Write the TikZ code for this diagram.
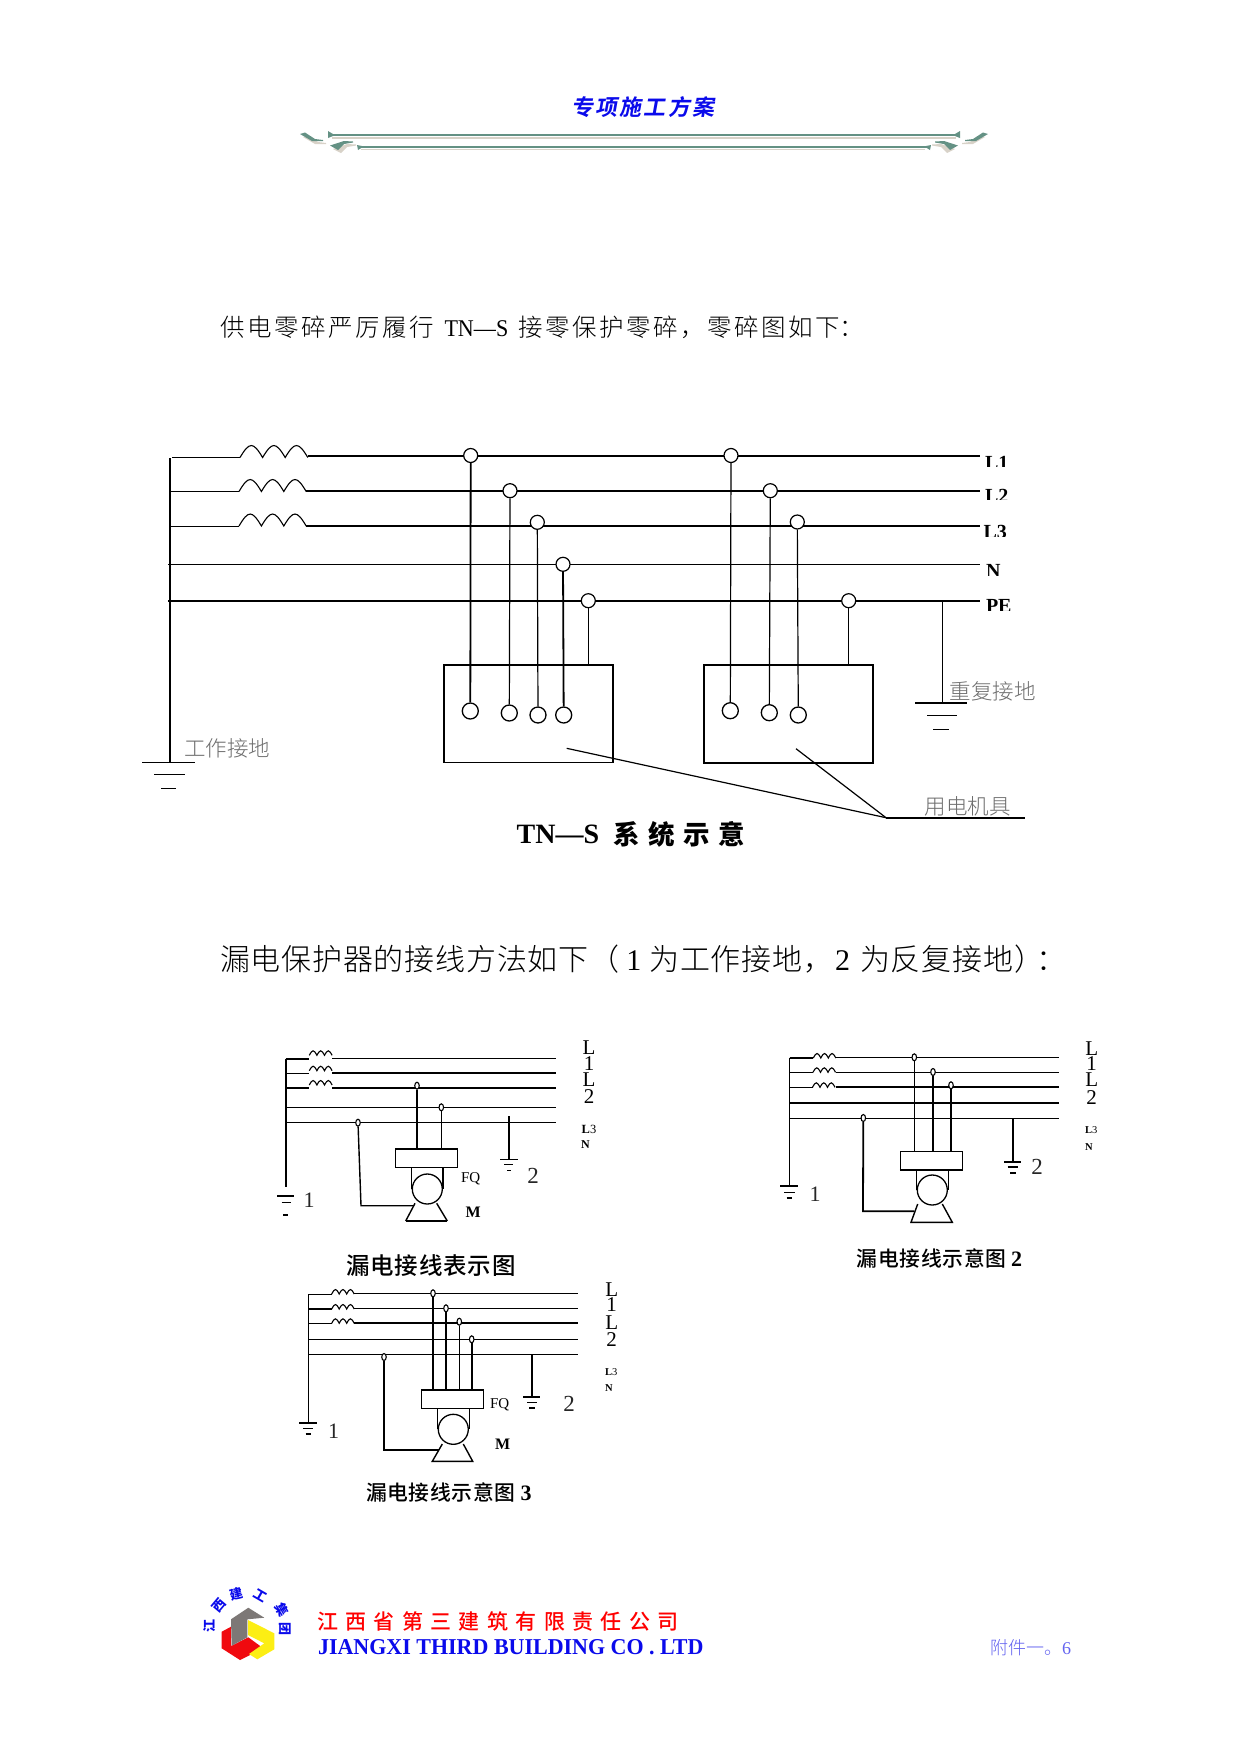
\documentclass[tikz,border=0pt]{standalone}
\usepackage{fontspec}
\usepackage{graphicx}
\usetikzlibrary{shapes.geometric}
\setmainfont{Liberation Serif}
\newfontfamily\cjk{Noto Sans CJK SC}
\newfontfamily\cjkm{Noto Sans CJK SC Medium}
\newfontfamily\cjkl{Noto Sans CJK SC Light}
\newfontfamily\cjkhead[FakeSlant=0.18]{Noto Sans CJK SC Bold}
\newcommand\fsz[1]{\fontsize{#1}{#1}\selectfont}
\makeatletter
\newcommand\spacedtext[2]{\@tfor\@ch:=#2\do{\@ch\kern#1pt\relax}}
\makeatother
\definecolor{headblue}{RGB}{10,10,235}
\definecolor{orngreen}{RGB}{100,145,132}
\definecolor{ornshadow}{RGB}{216,210,200}
\definecolor{graytext}{RGB}{110,110,110}
\definecolor{lightblue}{RGB}{100,100,240}
\definecolor{logogray}{RGB}{125,120,118}
\definecolor{logored}{RGB}{240,10,15}
\definecolor{logoyel}{RGB}{252,238,20}
\tikzset{
  txt/.style={inner sep=0pt,outer sep=0pt,anchor=west},
  ctxt/.style={inner sep=0pt,outer sep=0pt,anchor=center},
  thinw/.style={line width=1.2pt,line cap=butt},
  midw/.style={line width=1.4pt},
  thickw/.style={line width=1.8pt},
  tap/.style={circle,draw,fill=white,minimum size=14pt,inner sep=0pt,line width=1.2pt},
  term/.style={circle,draw,fill=white,minimum size=16pt,inner sep=0pt,line width=1.3pt},
  oval/.style={ellipse,draw,fill=white,minimum width=4.5pt,minimum height=7pt,inner sep=0pt,line width=1.1pt},
  fqbox/.style={rectangle,draw,line width=1.2pt,inner sep=0pt,minimum width=62pt,minimum height=18pt},
  motor/.style={circle,draw,line width=1.3pt,inner sep=0pt,minimum size=30pt},
}
% coil: x, y, bump width, bump height
\newcommand\coil[4]{\draw[line width=1.1pt,line join=miter] (#1,#2)
  .. controls +(#3*.42,-#4*1.33) and +(-#3*.42,-#4*1.33) .. ++(#3,0)
  .. controls +(#3*.42,-#4*1.33) and +(-#3*.42,-#4*1.33) .. ++(#3,0)
  .. controls +(#3*.42,-#4*1.33) and +(-#3*.42,-#4*1.33) .. ++(#3,0);}
% clipped bold label: name, x, top, clip bottom, text
\newcommand\cliplabel[5]{\begin{scope}
  \clip (#2-2,#3-2) rectangle (#2+40,#4);
  \node[inner sep=0pt,outer sep=0pt,anchor=base west,font=\fsz{20}\bfseries] (#1) at (#2,#3+13.2) {#5};
\end{scope}}
% stacked L 1 L 2
\newcommand\lstack[6]{%
  \node[ctxt,font=\fsz{21}] (#1a) at (#2,#3) {L};
  \node[ctxt,font=\fsz{21}] (#1b) at (#2,#4) {1};
  \node[ctxt,font=\fsz{21}] (#1c) at (#2,#5) {L};
  \node[ctxt,font=\fsz{21}] (#1d) at (#2,#6) {2};}
\newcommand\ornament{%
  \fill[ornshadow] (303,137) -- (308,136) -- (318,142) -- (326,143) -- (326,144) -- (315,144) -- cycle;
  \fill[ornshadow] (333,149) -- (347,144) -- (356,144.5) -- (356,145.5) -- (347,147) -- (341,153) -- cycle;
  \fill[orngreen] (300,134) -- (305,132.5) -- (315,139) -- (323,140) -- (323,141) -- (312,141) -- cycle;
  \fill[orngreen] (330,145.5) -- (344,141) -- (353,141.5) -- (353,142.5) -- (344,144) -- (338,150) -- cycle;
  \fill[orngreen] (328,131) -- (333,134) -- (333,136) -- (328,138) -- cycle;
  \fill[orngreen] (357,145) -- (362,146) -- (362,147.5) -- (358,150) -- cycle;}
\begin{document}
\begin{tikzpicture}[x=1pt,y=-1pt]
\useasboundingbox (0,0) rectangle (1241,1754);
\fill[white] (0,0) rectangle (1241,1754);

% ---------- header
\node[txt,font=\cjkhead\fsz{22},text=headblue] (head) at (571,107) {\spacedtext{2.3}{专项施工方案}};
\draw[ornshadow,line width=1.6pt] (332,138) -- (956,138);
\draw[ornshadow,line width=1.6pt] (361,149.5) -- (925,149.5);
\draw[orngreen,line width=2pt] (330,134.7) -- (958,134.7);
\draw[orngreen,line width=2pt] (360,146.5) -- (927,146.5);
\ornament
\begin{scope}[shift={(1288,0)},xscale=-1]\ornament\end{scope}

% ---------- paragraph 1
\node[txt,font=\cjkl\fsz{24.5}] (para1) at (220.5,327)
 {\spacedtext{2.5}{供电零碎严厉履行}\kern8pt\scalebox{.92}[1]{\rmfamily\fsz{24}TN—S}\kern10pt\spacedtext{2.5}{接零保护零碎，零碎图如下}\kern-3pt：};

% ---------- TN-S system
\coordinate (busT) at (170,458); \coordinate (busB) at (170,762);
\draw[thickw] (busT) -- (busB);
\coil{240}{457.5}{22.6}{12}
\coil{239}{491.5}{22.4}{12}
\coil{239}{526}{22.4}{12}
\coordinate (a1) at (172,457.3); \coordinate (a1c) at (240,457.3);
\coordinate (a2) at (170,491.5); \coordinate (a2c) at (239,491.5);
\coordinate (a3) at (170,526.3); \coordinate (a3c) at (239,526.3);
\draw[thinw] (a1) -- (a1c); \draw[thinw] (a2) -- (a2c); \draw[thinw] (a3) -- (a3c);
\coordinate (b1) at (308,455.7); \coordinate (e1) at (980,455.7);
\coordinate (b2) at (306,491); \coordinate (e2) at (980,491);
\coordinate (b3) at (306,526); \coordinate (e3) at (980,526);
\coordinate (b4) at (168,564.3); \coordinate (e4) at (980,564.3);
\coordinate (b5) at (168,601); \coordinate (e5) at (980,601);
\draw[thickw] (b1) -- (e1); \draw[thickw] (b2) -- (e2); \draw[thickw] (b3) -- (e3);
\draw[thinw] (b4) -- (e4); \draw[thickw] (b5) -- (e5);

\node[rectangle,draw,thinw,inner sep=0pt,minimum width=168.5pt,minimum height=97.2pt] (box1) at (528.7,714) {};
\draw[thickw] (box1.north east) -- (box1.north west) -- (box1.south west);
\node[rectangle,draw,thinw,inner sep=0pt,minimum width=168.2pt,minimum height=97.2pt] (box2) at (788.5,713.5) {};
\draw[line width=1.6pt] (box2.north west) -- (box2.south west) -- (box2.south east) -- (box2.north east);

\node[tap] (c1) at (470.7,455.5) {};
\node[tap] (c2) at (510,490.7) {};
\node[tap] (c3) at (537.3,522.3) {};
\node[tap] (c4) at (563,564.3) {};
\node[tap] (c5) at (588.3,600.7) {};
\node[tap] (c6) at (731,455.5) {};
\node[tap] (c7) at (770.3,490.7) {};
\node[tap] (c8) at (797.3,522) {};
\node[tap] (c9) at (848.7,600.7) {};
\node[term] (t1) at (470.3,711) {};
\node[term] (t2) at (509.3,713) {};
\node[term] (t3) at (538,715) {};
\node[term] (t4) at (563.7,715) {};
\node[term] (t6) at (730.3,710.7) {};
\node[term] (t7) at (769.3,712.7) {};
\node[term] (t8) at (798.3,715) {};
\draw[thickw] (c1) -- (t1);
\draw[thinw] (c2) -- (t2);
\draw[thinw] (c3) -- (t3);
\draw[thickw] (c4) -- (t4);
\draw[thinw] (c5) -- (c5 |- box1.north);
\draw[thinw] (c6) -- (t6);
\draw[thinw] (c7) -- (t7);
\draw[thinw] (c8) -- (t8);
\draw[thinw] (c9) -- (c9 |- box2.north);

% grounds of main diagram
\coordinate (pe1) at (942.3,601); \coordinate (g1) at (942.3,702.7);
\draw[thinw] (pe1) -- (g1);
\draw[line width=1.6pt] (915,702.7) -- (966.7,702.7);
\draw[thinw] (927,715.3) -- (957,715.3);
\draw[thinw] (933.3,729.3) -- (949,729.3);
\draw[thinw] (142,762.3) -- (195,762.3);
\draw[thinw] (154,774.3) -- (185,774.3);
\draw[thinw] (161.3,788.3) -- (175.7,788.3);
\node[txt,font=\cjkl\fsz{21.5},text=graytext] (lblR) at (949.5,691) {重复接地};
\node[txt,font=\cjkl\fsz{21.5},text=graytext] (lblW) at (184,748) {工作接地};

% leaders
\coordinate (p1) at (566.7,748.3); \coordinate (p2) at (796,748.7);
\coordinate (hub) at (886,817.7); \coordinate (hubE) at (1024.7,817.7);
\draw[thinw] (p1) -- (hub); \draw[thinw] (p2) -- (hub);
\draw[thickw] (hub) -- (hubE);
\node[txt,font=\cjkl\fsz{21.5},text=graytext] (lblU) at (924.5,806) {用电机具};

% clipped line labels
\cliplabel{lL1}{985}{456}{466}{L1}
\cliplabel{lL2}{985}{489.3}{499.3}{L2}
\cliplabel{lL3}{983.5}{525}{536}{L3}
\cliplabel{lN}{986}{564.3}{575.7}{N}
\cliplabel{lPE}{986}{599}{610}{PE}

\node[txt,font=\fsz{28}\bfseries] (tt1) at (516.7,834) {TN—S};
\node[txt,font=\cjk\bfseries\fsz{26.5}] (tt2) at (613,834) {\spacedtext{8.8}{系统示意}};

% ---------- paragraph 2
\node[txt,font=\cjkl\fsz{30}] (para2) at (220,959.5)
 {\spacedtext{.8}{漏电保护器的接线方法如下（}\kern6pt{\rmfamily 1}\kern8pt\spacedtext{.8}{为工作接地，}\kern1pt{\rmfamily 2}\kern10pt\spacedtext{.8}{为反复接地）}\kern-9pt：};

% ---------- leakage diagram 1
\coordinate (s1T) at (285.7,1059); \coordinate (s1B) at (285.7,1187.3);
\draw[thickw] (s1T) -- (s1B);
\draw[thickw] (285.7,1059) -- (309.3,1059);
\draw[thinw] (285.7,1073.3) -- (309.3,1073.3);
\draw[thickw] (285.7,1088) -- (309.3,1088);
\coil{309.3}{1055.3}{7.6}{4.5}
\coil{309.3}{1070.7}{7.6}{4.5}
\coil{309.3}{1085}{7.6}{4.5}
\draw[thinw] (332,1058.3) -- (556,1058.3);
\draw[thickw] (332,1072.7) -- (556,1072.7);
\draw[thickw] (332,1087.7) -- (556,1087.7);
\draw[thinw] (285.7,1107.3) -- (556,1107.3);
\draw[thinw] (285.7,1122.3) -- (556,1122.3);
\node[fqbox] (f1) at (426.7,1158.3) {};
\draw[thickw] (f1.north west) -- (f1.north east);
\node[motor] (m1) at (427.3,1189) {};
\draw[midw] (411.7,1167.3) -- (411.7,1189);
\draw[midw] (443,1167.3) -- (443,1189);
\node[oval] (n11) at (417,1085.7) {};
\node[oval] (n12) at (441.3,1107.3) {};
\node[oval] (n13) at (358,1122.7) {};
\draw[thickw] (n11) -- (n11 |- f1.north);
\draw[thinw] (n12) -- (n12 |- f1.north);
\coordinate (k1) at (361,1205.7); \coordinate (k1e) at (413.3,1205.7);
\draw[midw] (n13) -- (k1) -- (k1e);
\draw[midw] (415,1203.3) -- (405.7,1221);
\draw[midw] (436.7,1203.3) -- (447.3,1221);
\draw[thickw] (405.7,1221) -- (447.3,1221);
\draw[thinw] (509,1116) -- (509,1159.3);
\draw[thinw] (500,1159.3) -- (517.7,1159.3);
\draw[thinw] (504.3,1164.3) -- (513.3,1164.3);
\draw[thinw] (507.3,1170.7) -- (511,1170.7);
\draw[thickw] (277.3,1196) -- (294,1196);
\draw[thinw] (281.7,1202.3) -- (290.7,1202.3);
\draw[thickw] (283.3,1215) -- (288,1215);
\node[ctxt,font=\fsz{22},text=black!85] (d11) at (309,1200) {1};
\node[ctxt,font=\fsz{23},text=black!85] (d12) at (533,1176) {2};
\node[txt,font=\fsz{15}] (fq1) at (461,1178.3) {FQ};
\node[txt,font=\fsz{16}\bfseries] (mm1) at (465.7,1212.3) {M};
\lstack{s1}{589}{1047.7}{1063.3}{1079.3}{1097}
\node[txt,font=\fsz{12.5}] (l31) at (581.7,1129) {\textbf{L}3};
\node[txt,font=\fsz{12}\bfseries] (ln1) at (581,1145) {N};
\node[txt,font=\cjkm\fsz{23.5}] (cap1) at (346,1266) {\spacedtext{.9}{漏电接线表示图}};

% ---------- leakage diagram 2
\coordinate (s2T) at (789.7,1057.7); \coordinate (s2B) at (789.7,1186);
\draw[thinw] (s2T) -- (s2B);
\draw[thickw] (789.7,1058) -- (813.3,1058);
\draw[thinw] (789.7,1072.3) -- (813.3,1072.3);
\draw[thinw] (789.7,1087.3) -- (813.3,1087.3);
\coil{813.3}{1058}{7.5}{4.5}
\coil{813}{1072.3}{7.5}{4.5}
\coil{812.5}{1087.3}{7.5}{4.5}
\draw[thinw] (835.7,1057.3) -- (1058.7,1057.3);
\draw[thinw] (835.7,1072.3) -- (1058.7,1072.3);
\draw[thickw] (835.7,1086.7) -- (1058.7,1086.7);
\draw[thickw] (789.7,1102.7) -- (1058.7,1102.7);
\draw[thinw] (789.7,1118.3) -- (1058.7,1118.3);
\node[fqbox] (f2) at (931.5,1160.2) {};
\draw[thickw] (f2.south west) -- (f2.south east);
\node[motor] (m2) at (932.3,1190) {};
\draw[midw] (916.7,1169) -- (916.7,1190);
\draw[midw] (948.3,1169) -- (948.3,1190);
\node[oval] (n21) at (914.3,1057.3) {};
\node[oval] (n22) at (933,1072) {};
\node[oval] (n23) at (951,1085.3) {};
\node[oval] (n24) at (863.3,1118) {};
\draw[thinw] (n21) -- (n21 |- f2.north);
\draw[thickw] (n22) -- (n22 |- f2.north);
\draw[thickw] (n23) -- (n23 |- f2.north);
\coordinate (k2) at (863,1211.3); \coordinate (k2e) at (914,1211.3);
\draw[thickw] (n24) -- (k2) -- (k2e);
\draw[midw] (917.7,1204) -- (911,1222.3) -- (952.3,1222.3) -- (942.3,1204);
\draw[thickw] (1013,1118.3) -- (1013,1161.7);
\draw[thickw] (1004.3,1161.7) -- (1021.3,1161.7);
\draw[thinw] (1007.7,1167) -- (1018.3,1167);
\draw[thickw] (1010,1173) -- (1015.7,1173);
\draw[thickw] (780,1186) -- (798.3,1186);
\draw[thinw] (784,1192.3) -- (795,1192.3);
\draw[thickw] (786.7,1198.3) -- (792.3,1198.3);
\node[ctxt,font=\fsz{22},text=black!85] (d21) at (815,1194) {1};
\node[ctxt,font=\fsz{23},text=black!85] (d22) at (1037,1166.7) {2};
\lstack{s2}{1091.7}{1048.3}{1063.7}{1080}{1098}
\node[txt,font=\fsz{10.5}] (l32) at (1085,1130) {\textbf{L}3};
\node[txt,font=\fsz{10.5}\bfseries] (ln2) at (1085,1146.7) {N};
\node[txt,font=\cjkm\fsz{20.8}] (cap2) at (856.7,1258.3) {\spacedtext{.7}{漏电接线示意图}\kern4pt{\rmfamily\fsz{22}\bfseries 2}};

% ---------- leakage diagram 3
\coordinate (s3T) at (308.3,1294.3); \coordinate (s3B) at (308.3,1422.7);
\draw[thinw] (s3T) -- (s3B);
\draw[thinw] (308.3,1294.3) -- (331.7,1294.3);
\draw[thickw] (308.3,1309) -- (331.7,1309);
\draw[thinw] (308.3,1323.3) -- (331.7,1323.3);
\coil{331.7}{1294}{7.5}{4.5}
\coil{331.7}{1309}{7.5}{4.5}
\coil{331.7}{1323.3}{7.5}{4.5}
\draw[thinw] (354,1293.3) -- (577.7,1293.3);
\draw[thinw] (354,1308.3) -- (577.7,1308.3);
\draw[thickw] (354,1322.7) -- (577.7,1322.7);
\draw[thinw] (308.3,1339.3) -- (577.7,1339.3);
\draw[thinw] (308.3,1354.3) -- (577.7,1354.3);
\node[fqbox] (f3) at (452.7,1399.5) {};
\draw[thickw] (f3.north west) -- (f3.north east);
\node[motor] (m3) at (453.3,1429.3) {};
\draw[midw] (437.7,1408.3) -- (437.7,1429.3);
\draw[midw] (469.3,1408.3) -- (469.3,1429.3);
\node[oval] (n31) at (433,1293.3) {};
\node[oval] (n32) at (446,1308.3) {};
\node[oval] (n33) at (459.3,1321.7) {};
\node[oval] (n34) at (471.7,1339.3) {};
\node[oval] (n35) at (384,1357) {};
\draw[thickw] (n31) -- (n31 |- f3.north);
\draw[thickw] (n32) -- (n32 |- f3.north);
\draw[thinw] (n33) -- (n33 |- f3.north);
\draw[thickw] (n34) -- (n34 |- f3.north);
\coordinate (k3) at (384,1450.3); \coordinate (k3e) at (439,1450.3);
\draw[thickw] (n35) -- (k3) -- (k3e);
\draw[midw] (442.3,1444) -- (432.3,1461.3) -- (472.7,1461.3) -- (463.3,1444);
\draw[thickw] (532,1354.3) -- (532,1397.3);
\draw[thickw] (523,1397.3) -- (540,1397.3);
\draw[thinw] (527.3,1402.7) -- (537.3,1402.7);
\draw[thickw] (529.3,1408.3) -- (535,1408.3);
\draw[thickw] (299,1422.7) -- (316.7,1422.7);
\draw[thinw] (303.3,1428.3) -- (313.3,1428.3);
\draw[thickw] (305.7,1434) -- (310.7,1434);
\node[ctxt,font=\fsz{22},text=black!85] (d31) at (333.5,1431.7) {1};
\node[ctxt,font=\fsz{23},text=black!85] (d32) at (569,1404) {2};
\node[txt,font=\fsz{15}] (fq3) at (490,1404.3) {FQ};
\node[txt,font=\fsz{16}\bfseries] (mm3) at (495,1444.3) {M};
\lstack{s3}{611.7}{1289.3}{1305}{1322.3}{1340}
\node[txt,font=\fsz{10.5}] (l33) at (605,1372.3) {\textbf{L}3};
\node[txt,font=\fsz{10.5}\bfseries] (ln3) at (605,1387.7) {N};
\node[txt,font=\cjkm\fsz{20.8}] (cap3) at (366,1492) {\spacedtext{.7}{漏电接线示意图}\kern4pt{\rmfamily\fsz{22}\bfseries 3}};

% ---------- logo
\fill[logored] (221.7,1631.7) -- (231,1626.7) -- (231,1646) -- (248.3,1637.3) -- (263.3,1648.3) -- (240,1660) -- (221.7,1648.3) -- cycle;
\fill[logoyel] (248,1620) -- (274.3,1633.3) -- (274.3,1649.3) -- (257.3,1659.3) -- (249,1654) -- (264.3,1643.3) -- (248,1635) -- cycle;
\fill[logogray] (231,1619.3) -- (248.3,1607.7) -- (264.3,1617.7) -- (247.3,1619.3) -- (247.3,1637.3) -- (231.7,1645.7) -- cycle;
\node[ctxt,font=\cjk\bfseries\fsz{13},text=headblue,rotate=90] (r1) at (210,1626) {江};
\node[ctxt,font=\cjk\bfseries\fsz{13},text=headblue,rotate=50] (r2) at (219,1606) {西};
\node[ctxt,font=\cjk\bfseries\fsz{13},text=headblue,rotate=15] (r3) at (236.7,1594) {建};
\node[ctxt,font=\cjk\bfseries\fsz{13},text=headblue,rotate=-30] (r4) at (260.7,1595.7) {工};
\node[ctxt,font=\cjk\bfseries\fsz{13},text=headblue,rotate=-60] (r5) at (282.3,1610) {集};
\node[ctxt,font=\cjk\bfseries\fsz{13},text=headblue,rotate=-90] (r6) at (285.7,1629.3) {团};

% ---------- footer
\node[txt,font=\cjkm\fsz{21},text=red] (comp) at (317,1621.7) {\spacedtext{7.4}{江西省第三建筑有限责任公司}};
\node[txt,text=headblue] (engl) at (318,1647.3) {\resizebox{385.5pt}{15pt}{\bfseries JIANGXI THIRD BUILDING CO . LTD}};
\node[txt,font=\cjkl\fsz{18},text=lightblue] (page) at (990,1648) {附件一。{\rmfamily 6}};
\end{tikzpicture}
\end{document}
